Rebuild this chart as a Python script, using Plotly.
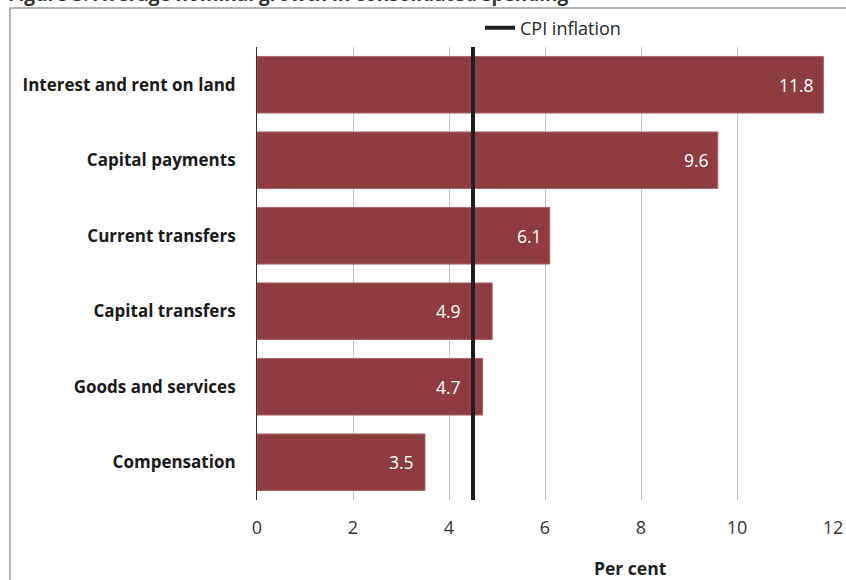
import plotly.graph_objects as go

categories = ["Interest and rent on land", "Capital payments", "Current transfers",
              "Capital transfers", "Goods and services", "Compensation"]
values = [11.8, 9.6, 6.1, 4.9, 4.7, 3.5]
cpi_inflation = 4.5
x_ticks = [0, 2, 4, 6, 8, 10, 12]

# label right-edge offsets from bar end (pixels, style only)
label_shift = [-7, -7, -6, -29, -20, -9]

W, H = 846, 580
L, R, T, B = 257, 833, 47, 500
def px(x):
    return (x - L) / (R - L)
def py(y):
    return (B - y) / (B - T)

bar_color = "#8E3C3F"
font_family = "'Open Sans', Lato, sans-serif"

fig = go.Figure()
fig.add_trace(go.Bar(
    x=values, y=categories, orientation="h",
    marker=dict(color=bar_color, line=dict(color="#A8666A", width=1)),
    width=0.75,
    showlegend=False, hoverinfo="x+y",
))
fig.add_trace(go.Scatter(
    x=[cpi_inflation, cpi_inflation], y=[0, 1], yaxis="y2",
    mode="lines", line=dict(color="#1E1E1E", width=4),
    name="CPI inflation", showlegend=True,
))

for cat, v, s in zip(categories, values, label_shift):
    fig.add_annotation(x=v, y=cat, xref="x", yref="y", text=f"{v:.1f}",
                       xanchor="right", yanchor="middle", xshift=s, showarrow=False,
                       font=dict(color="white", size=17.5, family=font_family))

fig.update_layout(
    width=W, height=H,
    margin=dict(l=L, r=W - R, t=T, b=H - B, autoexpand=False),
    paper_bgcolor="white", plot_bgcolor="white",
    font=dict(family=font_family, color="#262626"),
    xaxis=dict(range=[0, 12], tickvals=x_ticks, showgrid=True, gridcolor="#C4C4C4",
               gridwidth=1, zeroline=False, showline=False, ticks="", automargin=False,
               tickfont=dict(size=18, color="#333333"), ticklabelstandoff=15),
    yaxis=dict(autorange="reversed", showline=True, linecolor="#333333", linewidth=1,
               ticks="", tickfont=dict(size=17, color="#1a1a1a"), automargin=False,
               tickprefix="<b>", ticksuffix="</b>",
               ticklabelstandoff=17, showgrid=False),
    yaxis2=dict(overlaying="y", range=[0, 1], visible=False),
    legend=dict(orientation="h", x=px(480), y=py(28), xanchor="left", yanchor="middle",
                font=dict(size=18, color="#262626"), itemwidth=30,
                bgcolor="rgba(0,0,0,0)"),
)

fig.add_annotation(text="<b>Per cent</b>", xref="paper", yref="paper",
                   x=px(630), y=py(568), xanchor="center", yanchor="middle",
                   showarrow=False, font=dict(size=17.5, color="#222222"))

fig.add_shape(type="rect", xref="paper", yref="paper",
              x0=px(10), x1=px(900), y0=py(640), y1=py(8),
              line=dict(color="#9A9A9A", width=1.5), fillcolor="rgba(0,0,0,0)", layer="below")
fig.add_annotation(text="<b>Figure 3: Average nominal growth in consolidated spending</b>",
                   xref="paper", yref="paper", x=px(6), y=py(9), xanchor="left",
                   yanchor="bottom", showarrow=False,
                   font=dict(size=19, color="#333333", family=font_family))

fig.write_html("out.html", config={"displayModeBar": False},
               post_script="document.body.style.margin='0';document.body.style.overflow='hidden';")
